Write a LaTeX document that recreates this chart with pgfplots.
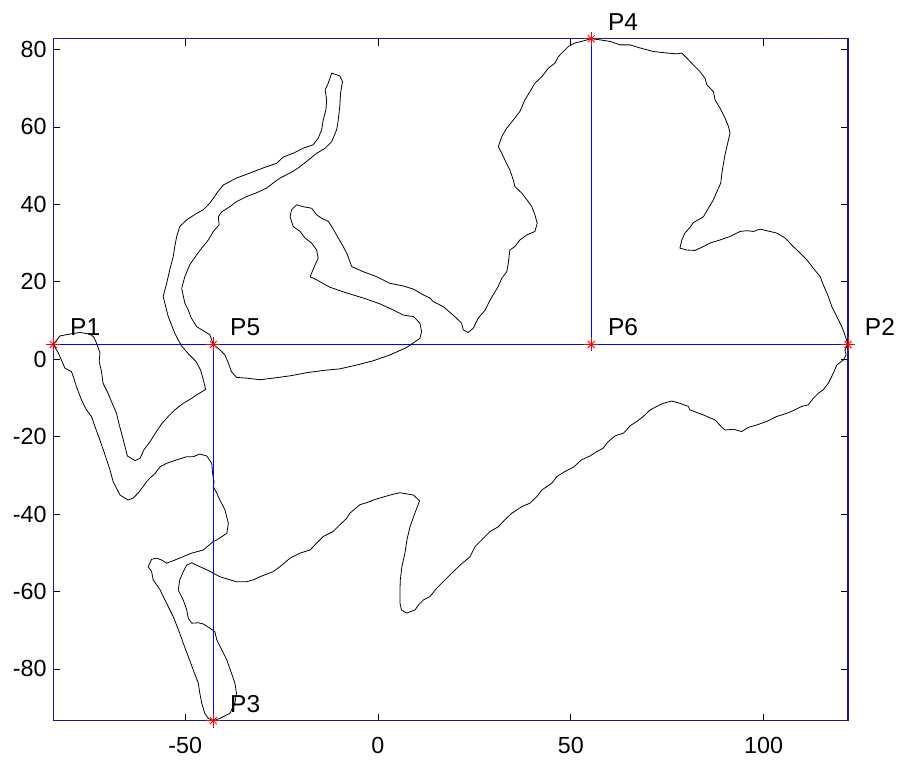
\documentclass[border=0pt]{standalone}
\usepackage{fontspec}
\setmainfont{Liberation Sans}
\usepackage{pgfplots}
\usepackage{pgfplotstable}
\pgfplotsset{compat=1.18}

\definecolor{axblue}{RGB}{25,25,140}
\definecolor{guide}{RGB}{0,0,255}

% outline, traced once round in order
\pgfplotstableread{
x y
-84.2 3.8
-82.5 6.0
-79.9 6.5
-77.3 6.9
-74.7 6.5
-73.7 5.7
-72.8 3.7
-72.1 1.6
-72.3 -0.6
-71.7 -3.2
-71.3 -6.2
-70.0 -8.8
-69.1 -11.0
-67.8 -14.0
-67.1 -17.0
-66.5 -19.1
-65.6 -22.6
-65.0 -25.0
-63.0 -26.2
-61.7 -25.6
-60.7 -23.4
-59.1 -21.3
-57.2 -18.3
-56.1 -16.7
-54.4 -14.8
-52.7 -13.1
-50.5 -11.4
-48.3 -10.1
-47.0 -9.2
-44.7 -7.8
-45.3 -5.3
-46.0 -2.8
-47.2 -0.6
-49.0 1.2
-51.0 3.5
-52.7 6.7
-54.4 11.0
-55.7 16.2
-54.8 19.6
-54.0 23.1
-53.1 26.5
-52.7 29.1
-52.2 31.7
-51.4 34.3
-49.6 36.0
-47.0 37.7
-45.3 38.6
-43.6 40.3
-41.8 42.9
-40.1 45.0
-36.7 46.8
-33.2 48.1
-29.8 49.4
-26.3 50.6
-24.6 52.2
-22.0 53.2
-19.4 54.5
-16.8 55.4
-15.5 57.1
-14.6 59.3
-14.2 61.8
-13.5 64.4
-13.3 67.0
-13.7 69.6
-12.9 71.3
-12.0 73.9
-9.9 73.2
-9.2 71.7
-9.7 68.7
-9.9 65.3
-10.3 61.8
-10.7 59.3
-12.0 56.2
-13.7 54.5
-15.9 53.2
-18.5 51.1
-20.7 49.4
-22.8 48.1
-25.4 46.8
-27.2 45.5
-28.9 44.2
-31.5 43.0
-34.1 42.0
-36.7 40.7
-38.4 39.4
-40.5 38.1
-41.4 36.8
-41.2 34.7
-42.7 33.0
-44.0 30.8
-45.7 28.7
-47.0 27.0
-48.8 24.4
-50.1 21.3
-50.9 18.3
-50.1 14.5
-49.2 12.7
-48.4 10.6
-47.0 8.4
-45.7 7.6
-43.6 6.3
-42.7 3.8
-41.0 2.4
-39.7 1.1
-38.8 -1.0
-38.0 -3.2
-36.7 -4.7
-34.1 -4.9
-30.6 -5.3
-27.2 -4.9
-22.8 -4.3
-18.5 -3.5
-14.2 -2.9
-9.9 -2.5
-5.5 -1.5
-1.2 -0.4
3.1 1.1
7.4 3.0
10.9 5.4
11.3 7.1
10.9 9.3
9.2 11.0
6.6 11.4
4.0 12.7
0.5 14.3
-3.8 15.8
-8.1 17.1
-12.5 18.6
-15.9 20.5
-17.6 21.3
-16.3 24.4
-15.5 26.1
-15.9 28.2
-17.2 30.0
-18.9 31.3
-20.2 33.0
-22.0 34.3
-22.8 36.8
-22.4 38.6
-21.1 39.9
-19.4 39.4
-17.2 39.0
-15.9 37.3
-14.6 36.4
-12.9 35.6
-12.0 34.3
-10.3 31.3
-9.0 29.1
-8.1 27.4
-6.8 23.9
-3.8 22.6
-0.3 21.3
3.1 19.6
6.6 18.9
9.2 18.1
11.8 16.6
13.5 15.8
14.3 14.9
16.9 13.6
19.5 11.4
21.7 9.3
22.1 7.6
23.4 6.9
24.7 8.0
26.0 10.6
27.8 12.7
29.1 15.3
30.4 17.5
31.2 18.8
32.1 20.9
33.4 22.6
33.8 24.8
34.2 28.2
35.5 29.1
36.8 30.8
38.6 32.1
40.7 33.0
41.3 35.1
40.7 37.3
39.9 39.4
38.6 41.2
37.3 42.9
35.5 44.6
35.1 46.3
34.2 48.9
32.9 51.5
32.1 53.2
31.2 54.9
32.1 57.5
33.4 59.7
35.1 61.8
36.8 64.0
38.1 67.0
39.4 69.1
40.7 71.3
42.5 73.0
44.2 75.2
45.9 76.5
46.8 78.2
48.1 79.5
49.4 80.8
51.1 81.7
52.8 82.1
55.3 82.8
57.6 82.5
60.2 82.1
62.8 81.2
65.4 81.2
68.0 80.4
71.4 79.5
74.9 79.1
77.5 78.9
78.8 79.1
80.1 77.8
81.8 76.0
83.5 74.3
84.8 72.6
85.3 70.9
87.0 69.1
87.4 67.0
88.7 64.9
90.0 62.3
90.9 60.1
91.3 58.4
90.6 55.4
90.0 52.8
89.6 50.6
89.2 48.1
88.9 45.5
87.9 43.3
87.0 41.2
85.7 39.0
84.4 36.8
81.8 35.3
80.8 33.9
79.6 32.6
78.8 30.8
78.3 28.7
80.1 28.2
82.2 28.1
84.4 29.1
86.1 30.0
88.7 30.8
91.3 31.7
93.9 33.0
95.6 33.2
97.4 33.0
99.1 33.6
100.8 33.2
103.4 32.6
105.6 31.3
107.3 29.5
109.5 27.4
111.2 25.7
112.9 23.5
114.7 21.3
115.5 19.2
116.8 16.2
117.7 13.6
119.0 11.0
120.3 8.4
121.1 6.3
121.9 3.8
121.1 2.4
121.4 1.1
120.7 -0.2
119.0 -1.5
118.1 -3.6
116.8 -6.2
115.5 -7.9
114.2 -8.8
112.9 -10.1
111.6 -11.8
109.9 -12.2
107.7 -13.3
106.0 -14.0
103.4 -14.8
100.8 -16.1
98.2 -17.0
96.1 -17.6
94.3 -18.7
92.2 -18.1
90.0 -18.3
89.2 -17.6
87.4 -15.7
84.4 -14.4
80.9 -13.1
80.5 -12.2
78.3 -11.4
76.2 -10.8
74.0 -11.4
72.3 -12.2
70.6 -13.1
68.8 -14.8
67.1 -16.1
65.4 -17.2
63.7 -19.1
61.5 -19.8
59.7 -21.3
58.4 -23.0
56.7 -23.9
55.0 -25.0
52.8 -26.0
50.7 -27.9
48.5 -29.0
46.4 -30.3
45.1 -32.0
42.5 -33.8
41.2 -35.5
39.4 -37.2
37.3 -38.1
34.7 -39.8
32.9 -41.5
31.2 -43.3
29.1 -44.5
26.9 -46.7
25.2 -48.4
23.9 -51.0
21.3 -53.2
18.7 -55.7
16.9 -57.5
15.2 -59.2
13.5 -61.3
11.8 -62.2
10.5 -63.5
9.6 -64.8
7.4 -65.6
6.1 -64.8
5.7 -63.0
5.7 -59.6
5.8 -57.0
6.2 -53.6
7.0 -50.1
7.5 -46.7
8.3 -43.3
9.6 -39.7
10.8 -36.6
9.2 -35.1
5.7 -34.5
3.1 -35.1
-1.3 -36.4
-2.1 -36.8
-4.7 -37.6
-7.3 -39.8
-8.1 -41.1
-9.9 -42.8
-11.6 -44.5
-14.2 -45.8
-15.9 -47.5
-17.6 -49.3
-20.2 -50.1
-22.8 -51.4
-25.4 -53.6
-27.2 -54.9
-30.6 -56.2
-32.3 -57.0
-34.1 -57.5
-36.7 -57.5
-38.4 -57.0
-41.0 -56.2
-42.7 -55.3
-44.4 -54.4
-46.2 -53.6
-48.3 -52.6
-49.6 -53.2
-50.5 -54.9
-51.4 -57.0
-51.8 -59.6
-50.5 -62.2
-49.6 -64.8
-49.2 -66.9
-48.3 -68.2
-46.6 -68.1
-45.3 -68.4
-43.6 -69.5
-42.3 -70.4
-41.8 -72.5
-40.5 -75.1
-39.2 -77.7
-38.0 -81.1
-37.1 -83.7
-36.7 -86.3
-37.1 -88.9
-38.4 -91.5
-41.0 -92.8
-42.7 -93.4
-44.0 -92.8
-44.9 -91.5
-45.7 -88.9
-46.2 -86.3
-46.6 -83.7
-47.9 -80.3
-49.2 -76.8
-50.5 -73.4
-51.4 -70.8
-53.1 -66.5
-54.4 -63.9
-55.7 -61.3
-56.5 -59.6
-58.3 -57.0
-58.7 -54.9
-59.6 -53.6
-58.7 -51.7
-57.4 -51.4
-56.1 -51.9
-54.8 -52.7
-52.7 -51.9
-50.5 -51.0
-48.3 -50.1
-45.3 -49.3
-42.7 -47.1
-41.8 -46.7
-39.2 -45.0
-38.8 -42.4
-39.7 -38.9
-41.0 -36.4
-41.8 -34.6
-42.7 -32.9
-42.5 -31.6
-42.9 -29.5
-43.1 -26.9
-44.4 -25.0
-46.2 -24.5
-47.9 -25.2
-49.6 -25.2
-52.2 -26.0
-54.8 -26.9
-56.5 -27.8
-57.8 -29.5
-59.1 -30.7
-60.0 -31.6
-60.9 -32.9
-62.2 -34.6
-63.5 -35.9
-64.8 -36.4
-66.9 -35.1
-68.7 -31.6
-69.5 -28.6
-70.8 -24.7
-72.1 -20.9
-73.4 -17.4
-74.3 -14.8
-75.6 -13.1
-76.9 -10.5
-78.2 -7.1
-79.0 -4.5
-79.5 -3.2
-81.2 -2.3
-82.1 -0.2
-82.9 1.6
-84.2 3.8
}\outline

\pgfplotstableread{
x y label
-84.2 3.8 P1
121.9 3.8 P2
-42.7 -93.4 P3
55.3 82.8 P4
-42.7 3.8 P5
55.3 3.8 P6
}\points

\begin{document}
\begin{tikzpicture}
  \useasboundingbox (0,0) rectangle (901pt,761pt);
  \begin{axis}[
      at={(53.3pt,40.3pt)}, anchor=south west,
      scale only axis,
      width=794.7pt, height=682pt,
      xmin=-84.2, xmax=121.9,
      ymin=-93.4, ymax=82.8,
      xtick={-50,0,50,100},
      ytick={-80,-60,-40,-20,0,20,40,60,80},
      tick align=inside, tick pos=both,
      major tick length=7pt,
      axis line style={axblue, line width=1.5pt},
      tick style={black, line width=0.6pt},
      font=\fontsize{23.3}{28}\selectfont,
      /pgf/number format/assume math mode=true,
      yticklabel style={inner sep=0pt, xshift=-6.5pt},
      xticklabel style={inner sep=0pt, yshift=-16pt},
      clip=false,
    ]
    \addplot[black, line width=0.8pt, line join=round, mark=none] table {\outline};
    % blue guide lines
    \addplot[color=guide, solid, line width=1.2pt, mark=none] coordinates {(-84.2,3.8) (121.9,3.8)};
    \addplot[color=guide, solid, line width=1.2pt, mark=none] coordinates {(-42.7,3.8) (-42.7,-93.4)};
    \addplot[color=guide, solid, line width=1.2pt, mark=none] coordinates {(55.3,3.8) (55.3,82.8)};
    % red stars, + and x on top of each other
    \addplot[red, only marks, mark=+, mark size=7pt, line width=0.8pt] table[x=x, y=y] {\points};
    \addplot[red, only marks, mark=x, mark size=5pt, line width=0.8pt,
      nodes near coords, point meta=explicit symbolic,
      every node near coord/.append style={anchor=base west, xshift=16.5pt, yshift=8.7pt,
        inner sep=0pt, text=black, font=\fontsize{24.5}{29}\selectfont}]
      table[x=x, y=y, meta=label] {\points};
  \end{axis}
\end{tikzpicture}
\end{document}
